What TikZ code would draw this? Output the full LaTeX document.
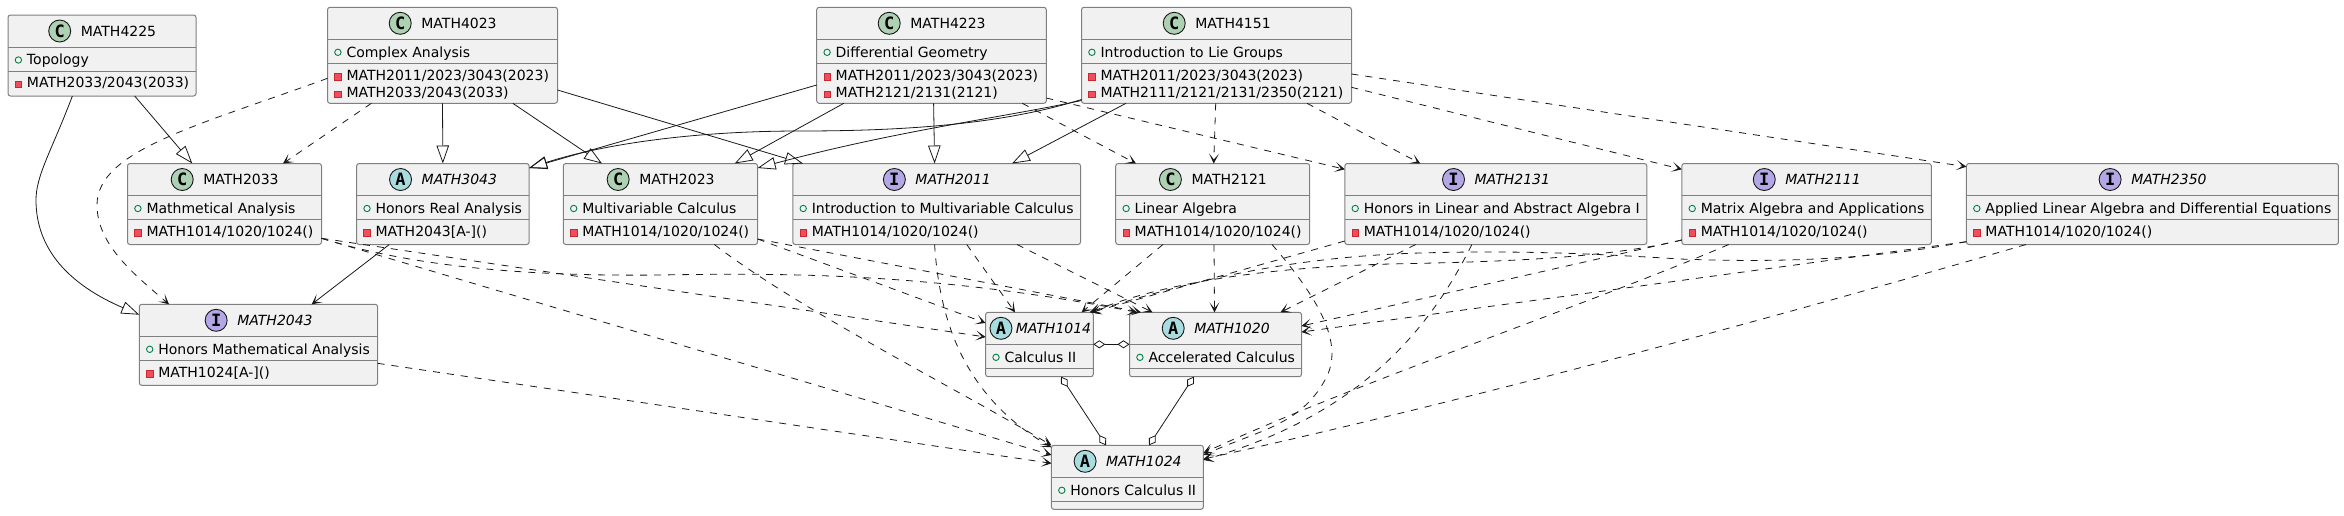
\documentclass[tikz,border=0pt]{standalone}
\usepackage{fontspec}
\setmainfont{DejaVu Sans}
\newfontfamily\spotfont{DejaVu Sans Mono}
\usetikzlibrary{arrows.meta}

\definecolor{boxfill}{HTML}{F1F1F1}
\definecolor{boxline}{HTML}{7F7F7F}
\definecolor{inkline}{HTML}{181818}
\definecolor{spotC}{HTML}{ADD1B2}
\definecolor{spotA}{HTML}{A9DCDF}
\definecolor{spotI}{HTML}{B4A7E5}
\definecolor{publine}{HTML}{038048}
\definecolor{privline}{HTML}{C82930}
\definecolor{privfill}{HTML}{F24D5C}

\tikzset{
    classbox/.style={draw=boxline, fill=boxfill, line width=1pt, rounded corners=2.5pt, inner sep=0pt, outer sep=0pt, anchor=north west},
    classrule/.style={draw=boxline, line width=1pt},
    spotnode/.style={circle, draw=inkline, line width=.9pt, inner sep=0pt, minimum width=22pt, font=\spotfont\bfseries\fontsize{17}{17}\selectfont},
    labelnode/.style={inner sep=0pt, outer sep=0pt, font=\fontsize{14}{16}\selectfont, text=black},
    titleC/.style={},
    titleA/.style={font=\itshape\fontsize{14}{16}\selectfont},
    titleI/.style={font=\itshape\fontsize{14}{16}\selectfont},
    pubmark/.style={circle, draw=publine, line width=.9pt, inner sep=0pt, minimum size=6.4pt},
    privmark/.style={rectangle, draw=privline, fill=privfill, line width=.8pt, inner sep=0pt, minimum size=6.4pt},
    extends/.style={draw=inkline, line width=.8pt, -{Triangle[open, length=18pt, width=12.5pt]}},
    uses/.style={draw=inkline, line width=.8pt, -{Stealth[length=10pt, width=10pt, inset=6pt]}},
    depends/.style={uses, dash pattern=on 7pt off 7pt},
    aggregates/.style={draw=inkline, line width=.8pt, {Diamond[open, length=12pt, width=8pt]}-{Diamond[open, length=12pt, width=8pt]}},
}

% id, left, top, width, height, spot letter, title, member, private lines
\newcommand{\classnode}[9]{%
    \ifdim#4pt<120pt \def\spotoff{-38.5}\def\titleoff{14}\else \def\spotoff{-42.3}\def\titleoff{16.5}\fi
    \node[classbox, minimum width=#4, minimum height=#5] (#1) at (#2,#3) {};
    \draw[classrule] ([yshift=-32]#1.north west) -- ([yshift=-32]#1.north east);
    \draw[classrule] ([yshift=-56]#1.north west) -- ([yshift=-56]#1.north east);
    \node[spotnode, fill=spot#6] (#1-spot) at ([xshift=\spotoff,yshift=-16]#1.north) {#6};
    \node[labelnode, title#6, anchor=base] (#1-title) at ([xshift=\titleoff,yshift=-21]#1.north) {#7};
    \node[pubmark] (#1-pubmark) at ([xshift=10.4,yshift=-45]#1.north west) {};
    \node[labelnode, anchor=base west] (#1-member) at ([xshift=19,yshift=-49.7]#1.north west) {#8};
    \foreach \privtext [count=\i] in {#9} {
        \node[privmark] (#1-privmark\i) at ([xshift=10.4,yshift={-69.5-17.3*(\i-1)}]#1.north west) {};
        \node[labelnode, anchor=base west] (#1-priv\i) at ([xshift=19,yshift={-72.7-17.3*(\i-1)}]#1.north west) {\privtext};
    }
}

\begin{document}
\begin{tikzpicture}[x=1pt, y=-1pt]
    \useasboundingbox (0,0) rectangle (2344,515);

    \classnode{m4225}{8}{15}{188}{81}{C}{MATH4225}{Topology}{MATH2033/2043(2033)}
    \classnode{m4023}{327.5}{7.3}{230}{96}{C}{MATH4023}{Complex Analysis}{MATH2011/2023/3043(2023),MATH2033/2043(2033)}
    \classnode{m4223}{816.7}{7.3}{229.6}{96}{C}{MATH4223}{Differential Geometry}{MATH2011/2023/3043(2023),MATH2121/2131(2121)}
    \classnode{m4151}{1081.5}{7.3}{270}{96}{C}{MATH4151}{Introduction to Lie Groups}{MATH2011/2023/3043(2023),MATH2111/2121/2131/2350(2121)}
    \classnode{m2033}{127.5}{163.5}{194}{81}{C}{MATH2033}{Mathmetical Analysis}{MATH1014/1020/1024()}
    \classnode{m3043}{356.6}{163.5}{172.5}{81}{A}{MATH3043}{Honors Real Analysis}{MATH2043[A-]()}
    \classnode{m2023}{563.3}{163.5}{194.3}{81}{C}{MATH2023}{Multivariable Calculus}{MATH1014/1020/1024()}
    \classnode{m2011}{792.8}{163.5}{287.7}{81}{I}{MATH2011}{Introduction to Multivariable Calculus}{MATH1014/1020/1024()}
    \classnode{m2121}{1115.7}{163.5}{194}{81}{C}{MATH2121}{Linear Algebra}{MATH1014/1020/1024()}
    \classnode{m2131}{1344.8}{163.5}{302}{81}{I}{MATH2131}{Honors in Linear and Abstract Algebra I}{MATH1014/1020/1024()}
    \classnode{m2111}{1681.8}{163.5}{249.5}{81}{I}{MATH2111}{Matrix Algebra and Applications}{MATH1014/1020/1024()}
    \classnode{m2350}{1966.4}{163.5}{372}{81}{I}{MATH2350}{Applied Linear Algebra and Differential Equations}{MATH1014/1020/1024()}
    \classnode{m2043}{139.3}{304.3}{238.3}{81}{I}{MATH2043}{Honors Mathematical Analysis}{MATH1024[A-]()}
    \classnode{m1014}{985.6}{312.3}{107.7}{64.4}{A}{MATH1014}{Calculus II}{}
    \classnode{m1020}{1129.5}{312.3}{172}{64.4}{A}{MATH1020}{Accelerated Calculus}{}
    \classnode{m1024}{1051.4}{445.3}{152}{64}{A}{MATH1024}{Honors Calculus II}{}

    \draw[extends] ([xshift=64.4]m4225.south west) .. controls (52,150) and (36,175) .. (36,200) .. controls (36,250) and (70,285) .. ([yshift=-10.4]m2043.north west);
    \draw[extends] ([xshift=126.7]m4225.south west) -- ([xshift=64.8]m2033.north west);
    \draw[extends] (m4023.south) -- (m3043.north);
    \draw[extends] ([xshift=185.3]m4023.south west) -- ([xshift=38.7]m2023.north west);
    \draw[extends] ([yshift=13.3]m4023.south east) -- ([xshift=10.2]m2011.north west);
    \draw[extends] ([yshift=-77.7]m4223.north west) -- ([yshift=-4.5]m3043.north east);
    \draw[extends] ([xshift=27.1]m4223.south west) -- ([xshift=171.4]m2023.north west);
    \draw[extends] ([xshift=116.9]m4223.south west) -- ([xshift=141.8]m2011.north west);
    \draw[extends] ([yshift=3.8]m4151.south west) .. controls (1000,125) and (900,131) .. (800,131) .. controls (690,131) and (600,145) .. ([yshift=-4.5]m3043.north east);
    \draw[extends] ([yshift=2.8]m4151.south west) .. controls (1000,118) and (900,130) .. ([yshift=-4.5]m2023.north east);
    \draw[extends] ([xshift=44.5]m4151.south west) -- ([xshift=219.2]m2011.north west);

    \draw[depends] ([yshift=-71]m4023.north west) .. controls (200,125) and (97,150) .. (97,205) .. controls (97,245) and (135,275) .. ([xshift=29.7]m2043.north west);
    \draw[depends] ([xshift=43.9]m4023.south west) -- ([xshift=155.5]m2033.north west);
    \draw[depends] ([xshift=205.6]m4223.south west) -- ([xshift=20.3]m2121.north west);
    \draw[depends] ([yshift=5.3]m4223.south east) -- ([yshift=-5.8]m2131.north west);
    \draw[depends] ([xshift=134.2]m4151.south west) -- ([xshift=98]m2121.north west);
    \draw[depends] ([xshift=225.5]m4151.south west) -- ([xshift=75.5]m2131.north west);
    \draw[depends] ([yshift=16]m4151.south east) -- ([yshift=-5.8]m2111.north west);
    \draw[depends] ([yshift=29.3]m4151.south east) -- ([yshift=-3.2]m2350.north west);
    \draw[uses] ([xshift=32.7]m3043.south west) -- ([xshift=172.4]m2043.north west);

    \draw[depends] ([yshift=6.2]m2033.south east) -- ([yshift=-24.7]m1014.north west);
    \draw[depends] ([yshift=6.2]m2033.south east) .. controls (430,272) and (560,276) .. (660,275) .. controls (780,273) and (930,272) .. ([xshift=7.5]m1020.north west);
    \draw[depends] ([yshift=6.2]m2033.south east) -- ([yshift=-9.7]m1024.north west);
    \draw[depends] ([yshift=5.5]m2023.south east) -- ([yshift=-10.7]m1014.north west);
    \draw[depends] ([yshift=5.5]m2023.south east) -- ([xshift=11.5]m1020.north west);
    \draw[depends] ([xshift=151]m2023.south west) .. controls (800,310) and (950,385) .. (m1024.north west);

    \draw[depends] ([xshift=173.9]m2011.south west) -- ([xshift=29.4]m1014.north west);
    \draw[depends] ([xshift=224.2]m2011.south west) -- ([xshift=23]m1020.north west);
    \draw[depends] ([xshift=141.8]m2011.south west) .. controls (940,330) and (970,400) .. ([yshift=-2]m1024.north west);
    \draw[depends] ([xshift=47.3]m2121.south west) -- ([xshift=96]m1014.north west);
    \draw[depends] ([xshift=98.3]m2121.south west) -- ([xshift=85]m1020.north west);
    \draw[depends] ([xshift=156.3]m2121.south west) .. controls (1320,300) and (1345,345) .. (1325,380) .. controls (1300,425) and (1260,430) .. ([yshift=-9.7]m1024.north east);
    \draw[depends] ([yshift=3.5]m2131.south west) -- ([xshift=106]m1014.north west);
    \draw[depends] ([xshift=70.9]m2131.south west) -- ([xshift=151]m1020.north west);
    \draw[depends] ([xshift=127]m2131.south west) .. controls (1420,350) and (1340,420) .. ([yshift=-14.7]m1024.north east);

    \draw[depends] ([yshift=4.5]m2111.south west) .. controls (1600,260) and (1480,262) .. (1390,264) .. controls (1280,267) and (1170,280) .. ([xshift=105]m1014.north west);
    \draw[depends] ([yshift=4.5]m2111.south west) -- ([yshift=-13.7]m1020.north east);
    \draw[depends] ([xshift=46.9]m2111.south west) .. controls (1600,300) and (1350,385) .. ([yshift=-7.7]m1024.north east);
    \draw[depends] ([yshift=2.8]m2350.south west) .. controls (1860,262) and (1760,262) .. (1680,259) .. controls (1600,254) and (1520,250) .. (1420,253) .. controls (1280,257) and (1180,285) .. ([xshift=104]m1014.north west);
    \draw[depends] ([yshift=2.8]m2350.south west) -- ([yshift=-19.7]m1020.north east);
    \draw[depends] ([xshift=59.6]m2350.south west) .. controls (1760,322) and (1450,405) .. ([yshift=-13.7]m1024.north east);
    \draw[depends] ([yshift=-59]m2043.north east) -- ([yshift=-18]m1024.north west);

    \draw[aggregates] ([yshift=-32]m1014.north east) -- ([yshift=-32]m1020.north west);
    \draw[aggregates] ([xshift=75.4]m1014.south west) -- ([xshift=54.6]m1024.north west);
    \draw[aggregates] ([xshift=64.3]m1020.south west) -- ([xshift=97.6]m1024.north west);
\end{tikzpicture}
\end{document}
